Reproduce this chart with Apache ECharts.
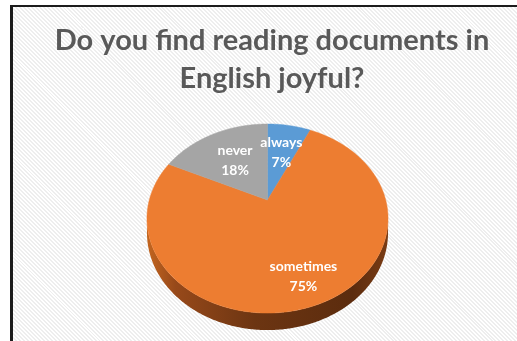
<!DOCTYPE html>
<html>
<head>
<meta charset="utf-8">
<script src="https://cdn.jsdelivr.net/npm/echarts@6/dist/echarts.min.js"></script>
<style>
  html, body { margin: 0; padding: 0; background: #ffffff; }
  #frame {
    position: absolute; left: 10px; top: 5px; width: 520px; height: 345px;
    border-left: 3px solid #1c1c1c; border-top: 2px solid #1c1c1c;
    background: repeating-linear-gradient(45deg, #ffffff 0px, #ffffff 1.4px, #eeeeee 1.4px, #eeeeee 2.8px);
  }
  #chart { position: absolute; left: 0; top: 0; width: 517px; height: 341px; }
</style>
</head>
<body>
<div id="frame"></div>
<div id="chart"></div>
<script>
// ---- data ----
const titleText = 'Do you find reading documents in\nEnglish joyful?';
const categories = ['always', 'sometimes', 'never'];
const values = [7, 75, 18];

// ---- style / layout ----
const sliceColors = ['#5b9bd5', '#ed7d31', '#a5a5a5'];
const pieLayout = { cx: 267.5, cy: 200, A: 118.2, B: 90.9, k: 0.196, depth: 13.7 };
const labelRadius = [0.6, 0.77, 0.56];

const total = values.reduce((a, b) => a + b, 0);
const starts = [];
{ let acc = 0; values.forEach(v => { starts.push(acc / total * 360); acc += v; }); }

function proj(r, deg) {
  const t = deg * Math.PI / 180;
  const u = r * Math.sin(t), v = -r * Math.cos(t);
  const s = 1 / (1 - pieLayout.k * v);
  return [pieLayout.cx + pieLayout.A * u * s, pieLayout.cy + pieLayout.B * v * s, s];
}
const silDeg = Math.asin(pieLayout.k) * 180 / Math.PI;
const silL = 90 + silDeg, silR = 270 - silDeg;

const sideGradient = {
  type: 'linear', global: true,
  x: pieLayout.cx - 121, y: 0, x2: pieLayout.cx + 121, y2: 0,
  colorStops: [
    { offset: 0, color: '#c4661f' },
    { offset: 0.12, color: '#97491a' },
    { offset: 0.45, color: '#6c3512' },
    { offset: 0.85, color: '#5c2c0e' },
    { offset: 1, color: '#7a3c14' }
  ]
};

function renderItem(params, api) {
  const i = params.dataIndex;
  const v = api.value(1);
  const a0 = starts[i], a1 = a0 + v / total * 360;
  const children = [];
  // side wall
  const s0 = Math.max(a0, silL), s1 = Math.min(a1, silR);
  if (s1 > s0) {
    const topPts = [], botPts = [];
    for (let a = s0; a <= s1 + 1e-6; a += 0.5) {
      const p = proj(1, Math.min(a, s1));
      topPts.push([p[0], p[1]]);
      botPts.push([p[0], p[1] + pieLayout.depth * p[2]]);
    }
    children.push({ type: 'polygon', z2: 1, shape: { points: topPts.concat(botPts.reverse()) },
      style: { fill: sideGradient } });
  }
  // top face
  const pts = [proj(0, 0).slice(0, 2)];
  for (let a = a0; a <= a1 + 1e-6; a += 0.5) {
    const p = proj(1, Math.min(a, a1));
    pts.push([p[0], p[1]]);
  }
  const pe = proj(1, a1); pts.push([pe[0], pe[1]]);
  children.push({ type: 'polygon', z2: 5, shape: { points: pts },
    style: { fill: sliceColors[i], stroke: sliceColors[i], lineWidth: 0.5 } });
  // label
  const lp = proj(labelRadius[i], (a0 + a1) / 2);
  children.push({ type: 'text', z2: 10, x: lp[0], y: lp[1],
    style: { text: categories[i] + '\n' + Math.round(v / total * 100) + '%',
      fill: '#ffffff', fontFamily: 'Lato', fontWeight: 'bold', fontSize: 14,
      lineHeight: 20, align: 'center', verticalAlign: 'middle' } });
  return { type: 'group', children };
}

const chart = echarts.init(document.getElementById('chart'), null, { renderer: 'canvas' });
chart.setOption({
  backgroundColor: 'transparent',
  animation: false,
  title: {
    text: titleText, left: 267, top: 17, textAlign: 'center',
    textStyle: { fontFamily: 'Lato', fontWeight: 'bold', fontSize: 29, lineHeight: 38, color: '#595959' }
  },
  series: [{
    type: 'custom', coordinateSystem: 'none',
    data: values.map((v, i) => [i, v]),
    renderItem: renderItem
  }]
});
</script>
</body>
</html>
